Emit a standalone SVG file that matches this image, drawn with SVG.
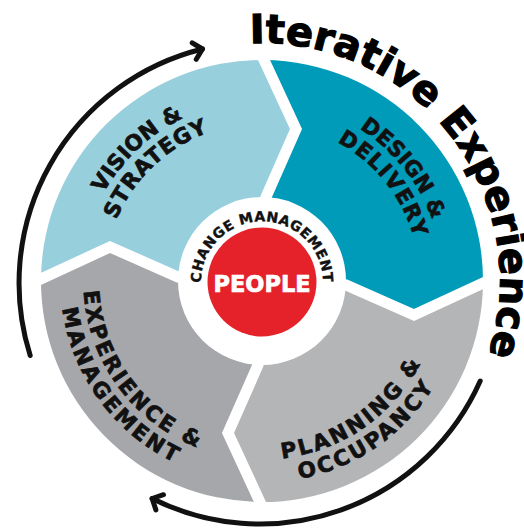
<svg xmlns="http://www.w3.org/2000/svg" xmlns:xlink="http://www.w3.org/1999/xlink" width="524" height="530" viewBox="0 0 524 530">
<style>
.lbl{font-family:"DejaVu Sans","Liberation Sans",sans-serif;font-weight:bold;font-size:21.5px;fill:#111;stroke:#111;stroke-width:0.7}
.div{fill:none;stroke:#fff;stroke-width:11;stroke-linejoin:miter}
.arc{fill:none;stroke:#111;stroke-width:5;stroke-linecap:round;marker-end:url(#ah)}
</style>
<defs>
<marker id="ah" markerUnits="userSpaceOnUse" viewBox="-14 -14 28 28" markerWidth="28" markerHeight="28" refX="0" refY="0" orient="auto" overflow="visible">
<path d="M-8.5,-8.5 L0,0 L-8.5,8.5" fill="none" stroke="#111" stroke-width="5" stroke-linecap="round" stroke-linejoin="round"/>
</marker>
<path id="pV1" d="M85.9,323 A181,181 0 0 1 313.7,107.5"/>
<path id="pV2" d="M108.3,317.6 A158,158 0 0 1 307.1,129.6"/>
<path id="pD1" d="M234.9,102 A181,181 0 0 1 430.5,347"/>
<path id="pD2" d="M238.4,124.8 A158,158 0 0 1 409.1,338.7"/>
<path id="pE1" d="M98.3,209.5 A178.6,178.6 0 0 0 281.9,458.5"/>
<path id="pE2" d="M77.3,200.3 A201.6,201.6 0 0 0 284.5,481.4"/>
<path id="pP1" d="M186.2,442.7 A178.6,178.6 0 0 0 439.9,265.7"/>
<path id="pP2" d="M176.5,463.6 A201.6,201.6 0 0 0 462.9,263.8"/>
<path id="pCM" d="M201.2,287.3 A61,61 0 1 1 322.8,287.3"/>
<path id="pT" d="M250,43.3 A238,238 0 0 1 444.3,434"/>
</defs>
<g id="seg-vision">
<path d="M262,281 L178,277 L110,247 L41,279 A221,221 0 0 1 264,60 L296,129 L266,197 Z" fill="#97CFDC"/>
<text class="lbl" text-anchor="middle" letter-spacing="0.1"><textPath href="#pV1" xlink:href="#pV1" startOffset="50%">VISION &amp;</textPath></text>
<text class="lbl" text-anchor="middle" letter-spacing="0.9"><textPath href="#pV2" xlink:href="#pV2" startOffset="50%">STRATEGY</textPath></text>
</g>
<g id="seg-design">
<path d="M262,281 L266,197 L296,129 L264,60 A221,221 0 0 1 483,283 L414,315 L346,285 Z" fill="#009BB9"/>
<text class="lbl" text-anchor="middle" letter-spacing="0.1"><textPath href="#pD1" xlink:href="#pD1" startOffset="50%">DESIGN &amp;</textPath></text>
<text class="lbl" text-anchor="middle" letter-spacing="1.3"><textPath href="#pD2" xlink:href="#pD2" startOffset="50%">DELIVERY</textPath></text>
</g>
<g id="seg-planning">
<path d="M262,281 L346,285 L414,315 L483,283 A221,221 0 0 1 260,502 L228,433 L258,365 Z" fill="#B4B5B7"/>
<text class="lbl" text-anchor="middle" letter-spacing="2.5"><textPath href="#pP1" xlink:href="#pP1" startOffset="50%">PLANNING &amp;</textPath></text>
<text class="lbl" text-anchor="middle" letter-spacing="2.5"><textPath href="#pP2" xlink:href="#pP2" startOffset="50%">OCCUPANCY</textPath></text>
</g>
<g id="seg-experience">
<path d="M262,281 L258,365 L228,433 L260,502 A221,221 0 0 1 41,279 L110,247 L178,277 Z" fill="#A6A7AA"/>
<text class="lbl" text-anchor="middle" letter-spacing="2.6"><textPath href="#pE1" xlink:href="#pE1" startOffset="50%">EXPERIENCE &amp;</textPath></text>
<text class="lbl" text-anchor="middle" letter-spacing="2.7"><textPath href="#pE2" xlink:href="#pE2" startOffset="50%">MANAGEMENT</textPath></text>
</g>
<g id="dividers">
<path class="div" d="M260.2,51.7 L296,129 L266,197 L262,281"/>
<path class="div" d="M491.3,279.2 L414,315 L346,285 L262,281"/>
<path class="div" d="M263.8,510.3 L228,433 L258,365 L262,281"/>
<path class="div" d="M32.7,282.8 L110,247 L178,277 L262,281"/>
</g>
<g id="center-people">
<circle cx="262" cy="281" r="84" fill="#fff"/>
<circle cx="262" cy="282" r="54.5" fill="#E52129"/>
<text x="262" y="292" text-anchor="middle" font-family="DejaVu Sans, sans-serif" font-weight="bold" font-size="22.5" fill="#fff" stroke="#fff" stroke-width="0.7">PEOPLE</text>
<text font-family="DejaVu Sans, sans-serif" font-weight="bold" font-size="14" fill="#111" stroke="#111" stroke-width="0.4" text-anchor="middle" letter-spacing="0.5"><textPath href="#pCM" xlink:href="#pCM" startOffset="50%">CHANGE MANAGEMENT</textPath></text>
</g>
<g id="title">
<text font-family="DejaVu Sans, sans-serif" font-weight="bold" font-size="40" fill="#000" stroke="#000" stroke-width="1.2" letter-spacing="0.2"><textPath href="#pT" xlink:href="#pT">Iterative Experience</textPath></text>
</g>
<g id="connectors">
<path class="arc" d="M30.2,355.5 A241,241 0 0 1 202.5,49"/>
<path class="arc" d="M480.2,381 A241,241 0 0 1 152.1,498.5"/>
</g>
</svg>
